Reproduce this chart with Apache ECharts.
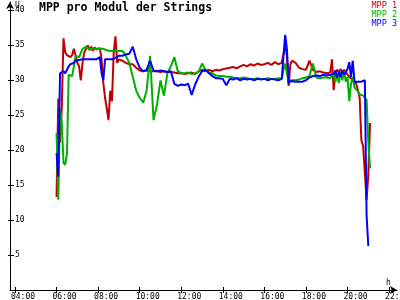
<!DOCTYPE html>
<html>
<head>
<meta charset="utf-8">
<script src="https://cdn.jsdelivr.net/npm/echarts@6/dist/echarts.min.js"></script>
<style>
html,body{margin:0;padding:0;background:#fff;}
#chart{width:400px;height:300px;}
</style>
</head>
<body>
<div id="chart"></div>
<script>
const times = [
  "05:55","06:00","06:05","06:10","06:15","06:20","06:25","06:30","06:35","06:40","06:45","06:50","06:55",
  "07:00","07:05","07:10","07:15","07:20","07:25","07:30","07:35","07:40","07:45","07:50","07:55",
  "08:00","08:05","08:10","08:15","08:20","08:25","08:30","08:35","08:40","08:45","08:50","08:55","09:00",
  "09:10","09:20","09:30","09:40","09:50",
  "10:00","10:10","10:20","10:30","10:40","10:50",
  "11:00","11:10","11:20","11:30","11:40","11:50",
  "12:00","12:10","12:20","12:30","12:40","12:50",
  "13:00","13:10","13:20","13:30","13:40","13:50",
  "14:00","14:10","14:20","14:30","14:40","14:50",
  "15:00","15:10","15:20","15:30","15:40","15:50",
  "16:00","16:10","16:20","16:30","16:40","16:50",
  "16:55","17:00","17:05","17:10","17:15","17:20",
  "17:30","17:40","17:50","18:00","18:10","18:20","18:30","18:40","18:50","19:00","19:10",
  "19:15","19:20","19:25","19:30","19:35","19:40","19:45","19:50","19:55",
  "20:00","20:05","20:10","20:15","20:20","20:25","20:30","20:35","20:40","20:45","20:50","20:55",
  "21:00","21:05"
];
const mpp1 = [
  null,13.3,27.4,21.1,26.0,36.0,34.0,33.6,33.8,33.3,33.6,34.5,34.3,
  32.5,32.0,30.0,32.5,34.0,34.2,35.0,34.3,34.8,34.2,34.7,34.4,
  34.5,34.6,33.0,29.6,27.5,26.0,24.3,28.5,27.0,34.0,36.3,32.5,33.0,
  32.8,32.5,32.3,32.3,31.8,
  31.4,31.3,31.4,31.3,31.3,31.3,
  31.2,31.3,31.2,31.2,31.1,31.0,
  31.0,30.9,31.0,31.1,30.9,31.3,
  31.5,31.3,31.5,31.3,31.5,31.4,
  31.6,31.7,31.8,31.9,31.7,32.0,
  32.2,32.0,32.3,32.1,32.4,32.2,
  32.3,32.5,32.2,32.6,32.3,32.5,
  32.6,35.0,33.5,29.2,32.3,32.8,
  32.5,31.8,31.6,31.5,32.8,31.5,31.2,31.3,31.1,31.0,31.1,
  33.0,28.6,31.0,31.5,31.2,31.6,31.0,31.5,31.2,
  30.8,30.5,30.4,30.0,30.2,29.5,28.6,27.5,21.4,20.6,20.5,12.9,
  16.5,23.9
];
const mpp2 = [
  null,22.5,12.9,26.0,24.0,18.2,17.9,19.5,30.8,31.0,30.6,32.0,33.5,
  33.6,33.3,33.5,34.5,34.6,34.8,34.6,34.4,34.6,34.5,34.6,34.5,
  34.4,34.5,34.5,34.5,34.3,34.3,34.2,34.2,34.2,34.2,34.3,34.2,34.0,
  34.2,33.5,32.5,30.5,28.5,
  27.5,26.8,28.5,33.5,24.3,26.5,
  30.0,27.8,31.0,32.0,33.3,31.3,
  31.0,31.0,31.1,30.9,31.0,31.2,
  32.4,31.5,31.1,31.0,30.7,30.6,
  30.6,30.5,30.5,30.4,30.3,30.3,
  30.4,30.3,30.2,30.2,30.3,30.2,
  30.2,30.3,30.2,30.2,30.3,30.2,
  31.5,32.4,31.0,29.6,30.0,30.0,
  30.0,30.1,30.3,30.4,30.6,32.4,30.4,30.3,30.4,30.4,30.3,
  30.5,31.0,29.8,30.8,29.6,31.2,30.0,31.3,29.8,
  30.5,27.0,29.5,30.5,29.0,28.8,28.4,28.0,28.0,27.8,27.5,27.2,
  21.2,17.4
];
const mpp3 = [
  null,19.6,16.2,31.0,31.2,31.3,31.0,31.5,32.0,32.3,32.2,32.5,32.8,
  33.0,32.9,33.1,33.0,33.2,33.0,33.1,33.0,33.2,33.0,33.1,33.0,
  33.2,33.3,31.0,30.0,33.0,33.2,33.0,33.2,33.0,32.8,33.2,33.4,33.5,
  33.5,33.7,33.8,34.8,33.0,
  31.8,31.3,31.5,32.8,31.4,31.3,
  31.4,31.3,31.2,31.3,29.5,29.2,
  29.4,29.3,29.5,27.9,29.4,30.5,
  31.3,31.5,31.0,30.6,30.3,30.3,
  30.2,29.3,30.2,30.1,30.3,30.0,
  30.2,30.1,30.2,30.0,30.2,30.1,
  30.2,30.0,30.2,30.1,30.0,30.2,
  30.0,36.5,34.5,29.5,29.9,29.8,
  29.8,29.8,29.8,30.0,30.4,30.6,30.7,30.6,30.8,30.7,30.8,
  30.6,30.9,31.4,30.4,31.2,30.5,31.4,30.8,31.0,
  31.6,32.6,30.5,32.8,29.8,29.9,29.8,29.9,29.8,29.9,30.0,10.7,
  6.3,null
];
const seriesNames = ["MPP 1","MPP 2","MPP 3"];
const seriesColors = ["#c00000","#00b000","#0000ff"];
const xTicks = [4,6,8,10,12,14,16,18,20,22];
const yTicks = [5,10,15,20,25,30,35,40];

const toHours = s => Number(s.slice(0,2)) + Number(s.slice(3))/60;
const pair = arr => times.map((t,i) => [toHours(t), arr[i]]);
const pad = v => (v < 10 ? "0" : "") + v + ":00";
const FONT = "DejaVu Sans Mono";

const X_MIN = 3.76, X_MAX = 22.38, Y_MIN = 0, Y_MAX = 41.2;
const gridBox = {left:10, right:3, top:2, bottom:10, containLabel:false, outerBoundsMode:'none'};

const chart = echarts.init(document.getElementById('chart'), null, {renderer:'canvas'});
chart.setOption({
  backgroundColor:'#fff',
  animation:false,
  title:{
    text:'MPP pro Modul der Strings', left:39, top:2, padding:0,
    textStyle:{fontFamily:FONT, fontWeight:'bold', fontSize:11.5, color:'#000'}
  },
  legend:{
    orient:'vertical', right:3, top:1, padding:0, itemGap:0,
    itemWidth:0, itemHeight:0, icon:'none', selectedMode:false,
    textStyle:{fontFamily:FONT, fontSize:8.5, lineHeight:7.7, padding:0},
    data: seriesNames.map((n,i)=>({name:n, textStyle:{color:seriesColors[i]}}))
  },
  grid:[Object.assign({}, gridBox), Object.assign({}, gridBox)],
  xAxis:[{
    type:'value', gridIndex:0, min:X_MIN, max:X_MAX,
    name:'h', nameLocation:'end', nameGap:-11, nameMoveOverlap:false,
    nameTextStyle:{fontFamily:FONT, fontSize:8, color:'#000', align:'left', verticalAlign:'bottom', padding:[0,0,3,0]},
    axisLine:{onZero:false, lineStyle:{color:'#000', width:1}, symbol:['none','arrow'], symbolSize:[6,7]},
    axisTick:{show:true, length:3, customValues:xTicks, lineStyle:{color:'#000'}},
    axisLabel:{customValues:xTicks, formatter:v=>pad(v), fontFamily:FONT, fontSize:8, color:'#000', margin:3, align:'center', padding:[0,0,0,16]},
    splitLine:{show:false}
  },{
    type:'value', gridIndex:1, min:X_MIN, max:X_MAX,
    axisLine:{show:false, onZero:false},
    axisTick:{show:true, inside:true, length:3, customValues:xTicks, lineStyle:{color:'#000'}},
    axisLabel:{show:false}, splitLine:{show:false}
  }],
  yAxis:[{
    type:'value', gridIndex:0, min:Y_MIN, max:Y_MAX,
    name:'U', nameLocation:'end', nameGap:0, nameMoveOverlap:false,
    nameTextStyle:{fontFamily:FONT, fontSize:8, color:'#000', align:'left', verticalAlign:'top', padding:[0,0,0,5]},
    axisLine:{onZero:false, lineStyle:{color:'#000', width:1}, symbol:['none','arrow'], symbolSize:[6,7]},
    axisTick:{show:true, length:2, customValues:yTicks, lineStyle:{color:'#000'}},
    axisLabel:{customValues:yTicks, inside:true, fontFamily:FONT, fontSize:8, color:'#000', margin:5},
    splitLine:{show:false}
  },{
    type:'value', gridIndex:1, min:Y_MIN, max:Y_MAX,
    axisLine:{show:false, onZero:false},
    axisTick:{show:true, inside:true, length:4, customValues:yTicks, lineStyle:{color:'#000'}},
    axisLabel:{show:false}, splitLine:{show:false}
  }],
  series:[mpp1,mpp2,mpp3].map((arr,i)=>({
    name:seriesNames[i], type:'line', xAxisIndex:0, yAxisIndex:0,
    data:pair(arr), showSymbol:false, symbol:'none',
    lineStyle:{color:seriesColors[i], width:2},
    itemStyle:{color:seriesColors[i]}
  }))
});
</script>
</body>
</html>
